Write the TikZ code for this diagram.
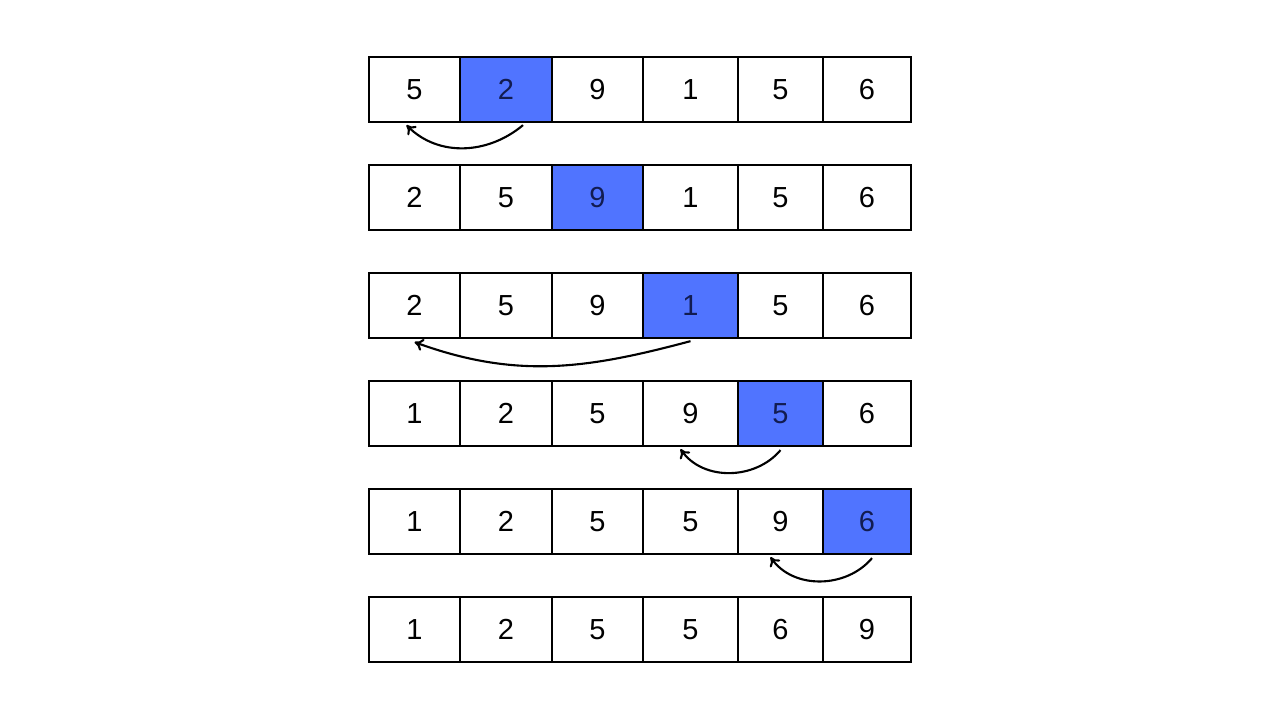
\documentclass[tikz,border=0pt]{standalone}
\usepackage{fontspec}
\setmainfont{Liberation Sans}
\usetikzlibrary{arrows.meta,calc}
\definecolor{cellblue}{RGB}{80,116,255}
\definecolor{inkblue}{RGB}{18,28,80}
\tikzset{
  cell/.style={draw=black, line width=1.3pt, minimum height=1.3cm, inner sep=0pt, font=\fontsize{16.5}{18}\selectfont},
  move/.style={-{To[length=5pt,width=7pt]}, line width=1.2pt},
}
\begin{document}
\begin{tikzpicture}[x=0.02cm, y=-0.02cm]
\useasboundingbox (0,0) rectangle (1280,720);
\foreach \r/\top/\key/\vals in {1/57/2/{5,2,9,1,5,6}, 2/165/3/{2,5,9,1,5,6}, 3/273/4/{2,5,9,1,5,6},
    4/381/5/{1,2,5,9,5,6}, 5/489/6/{1,2,5,5,9,6}, 6/597/0/{1,2,5,5,6,9}} {
  \foreach \v [count=\c] in \vals {
    \pgfmathsetmacro{\xa}{{369,460,552,643,738,823,911}[\c-1]}
    \pgfmathsetmacro{\xb}{{369,460,552,643,738,823,911}[\c]}
    \pgfmathsetmacro{\w}{(\xb-\xa)*0.02}
    \ifnum\c=\key \def\fillc{cellblue}\def\textc{inkblue}\else \def\fillc{white}\def\textc{black}\fi
    \node[cell, fill=\fillc, text=\textc, minimum width=\w cm] (r\r c\c) at ({(\xa+\xb)/2}, \top+32.5) {\v};
  }
}
\draw[move] ($(r1c2.south)+(17,2)$) to[out=-140, in=-45] ($(r1c1.south)+(-8,2)$);
\draw[move] ($(r3c4.south)+(0,2)$) to[out=-165, in=-20] ($(r3c1.south)+(0,3)$);
\draw[move] ($(r4c5.south)+(0,3)$) to[out=-130, in=-55] ($(r4c4.south)+(-10,2)$);
\draw[move] ($(r5c6.south)+(5,3)$) to[out=-130, in=-55] ($(r5c5.south)+(-10,2)$);
\end{tikzpicture}
\end{document}
